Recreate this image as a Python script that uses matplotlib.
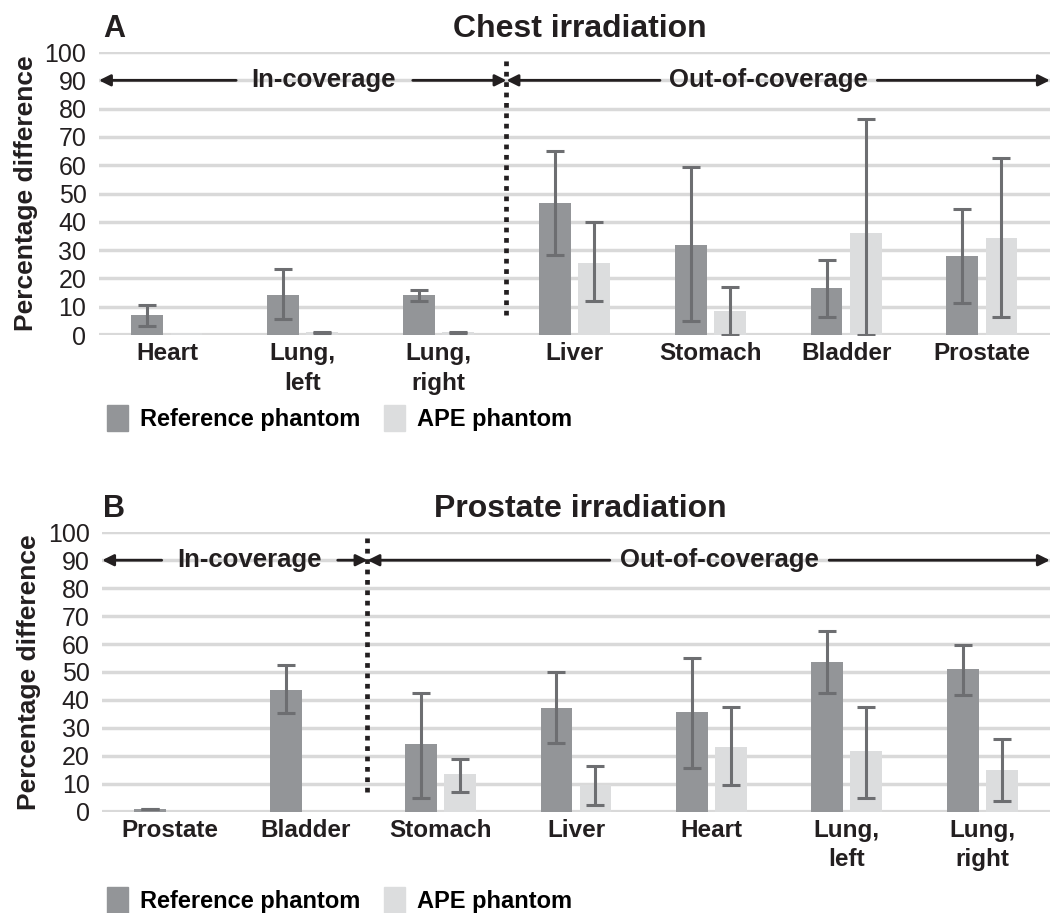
import matplotlib

matplotlib.use("Agg")
import matplotlib.pyplot as plt
import numpy as np
from matplotlib.patches import Patch

plt.rcParams["font.family"] = ["Liberation Sans", "DejaVu Sans"]

# panel A: chest irradiation
organs_a = ["Heart", "Lung,\nleft", "Lung,\nright", "Liver", "Stomach", "Bladder", "Prostate"]
ref_a = [7.0, 14.0, 14.0, 46.5, 32.0, 16.5, 28.0]
ref_a_lo = [3.3, 5.6, 12.1, 28.3, 4.8, 6.5, 11.3]
ref_a_hi = [10.5, 23.4, 16.1, 65.0, 59.4, 26.7, 44.6]
ape_a = [0.8, 1.0, 1.0, 25.4, 8.4, 36.0, 34.3]
ape_a_lo = [0.8, 0.9, 0.9, 12.1, 0.0, 0.0, 6.5]
ape_a_hi = [0.8, 1.1, 1.1, 39.8, 17.0, 76.3, 62.7]

# panel B: prostate irradiation
organs_b = ["Prostate", "Bladder", "Stomach", "Liver", "Heart", "Lung,\nleft", "Lung,\nright"]
ref_b = [0.9, 43.7, 24.2, 37.1, 35.6, 53.5, 51.0]
ref_b_lo = [0.8, 35.2, 4.8, 24.5, 15.5, 42.5, 41.8]
ref_b_hi = [1.0, 52.4, 42.6, 49.9, 54.9, 64.6, 59.8]
ape_b = [0.0, 0.0, 13.4, 9.4, 23.1, 21.6, 14.9]
ape_b_lo = [0.0, 0.0, 7.1, 2.4, 9.6, 4.8, 3.9]
ape_b_hi = [0.0, 0.0, 18.8, 16.3, 37.6, 37.6, 26.1]

REF_C = "#939598"
APE_C = "#dcddde"
ERR_C = "#6d6e71"
GRID_C = "#d9d9d9"
INK = "#231f20"
W = 0.235
OFF = 0.144


def arrow(ax, x0, x1, y=90):
    ax.annotate("", xy=(x1, y), xytext=(x0, y),
                arrowprops=dict(arrowstyle="-|>", color=INK, lw=2.0,
                                mutation_scale=17, shrinkA=0, shrinkB=0))


def panel(ax, organs, ref, ref_lo, ref_hi, ape, ape_lo, ape_hi):
    x = np.arange(len(organs))
    ax.set_xlim(-0.5, len(organs) - 0.5)
    ax.set_ylim(0, 100)
    for v in range(0, 101, 10):
        ax.axhline(v, color=GRID_C, lw=2.5 if v else 3, zorder=0)
    ref = np.array(ref)
    ape = np.array(ape)
    ax.bar(x - OFF, ref, W, color=REF_C, zorder=2)
    ax.bar(x + OFF, ape, W, color=APE_C, zorder=2)
    for xs, vals, lo, hi in [(x - OFF, ref, ref_lo, ref_hi), (x + OFF, ape, ape_lo, ape_hi)]:
        lo = np.array(lo)
        hi = np.array(hi)
        mask = (hi - lo) > 0
        ax.errorbar(xs[mask], vals[mask], yerr=[vals[mask] - lo[mask], hi[mask] - vals[mask]],
                    fmt="none", ecolor=ERR_C, elinewidth=2.2, capsize=6.5, capthick=2.2, zorder=4)
    ax.set_yticks(range(0, 101, 10))
    ax.set_xticks(x)
    ax.set_xticklabels(organs, fontweight="bold", fontsize=17.5, linespacing=1.38, va="top")
    ax.tick_params(axis="both", length=0, colors=INK)
    ax.tick_params(axis="y", labelsize=18, pad=9)
    ax.tick_params(axis="x", pad=5)
    for s in ax.spines.values():
        s.set_visible(False)
    ax.set_ylabel("Percentage difference", fontsize=19, fontweight="bold", color=INK,
                  labelpad=5)


fig = plt.figure(figsize=(10.53, 9.13), dpi=100)
ax_a = fig.add_axes([0.094, 0.633, 0.903, 0.310])
ax_b = fig.add_axes([0.097, 0.111, 0.900, 0.306])

panel(ax_a, organs_a, ref_a, ref_a_lo, ref_a_hi, ape_a, ape_a_lo, ape_a_hi)
panel(ax_b, organs_b, ref_b, ref_b_lo, ref_b_hi, ape_b, ape_b_lo, ape_b_hi)

dots = dict(color=INK, lw=3.4, ls=(0, (1, 1.2)), dash_capstyle="butt", zorder=5)

# coverage annotations, panel A
ax_a.plot([2.5, 2.5], [7, 98], **dots)
ax_a.text(1.15, 90, "In-coverage", ha="center", va="center", fontsize=18.5, fontweight="bold",
          color=INK)
arrow(ax_a, 0.51, -0.5)
arrow(ax_a, 1.81, 2.5)
ax_a.text(4.43, 90, "Out-of-coverage", ha="center", va="center", fontsize=18.5,
          fontweight="bold", color=INK)
arrow(ax_a, 3.63, 2.5)
arrow(ax_a, 5.23, 6.5)

# coverage annotations, panel B
ax_b.plot([1.46, 1.46], [7, 98], **dots)
ax_b.text(0.59, 90, "In-coverage", ha="center", va="center", fontsize=18.5, fontweight="bold",
          color=INK)
arrow(ax_b, -0.06, -0.5)
arrow(ax_b, 1.24, 1.46)
ax_b.text(4.06, 90, "Out-of-coverage", ha="center", va="center", fontsize=18.5,
          fontweight="bold", color=INK)
arrow(ax_b, 3.25, 1.46)
arrow(ax_b, 4.87, 6.5)

# titles and panel letters
fig.text(0.098, 0.968, "A", fontsize=22, fontweight="bold", va="center", color=INK)
fig.text(0.551, 0.968, "Chest irradiation", fontsize=23, fontweight="bold", ha="center",
         va="center", color=INK)
fig.text(0.098, 0.442, "B", fontsize=22, fontweight="bold", va="center", color=INK)
fig.text(0.551, 0.442, "Prostate irradiation", fontsize=23, fontweight="bold", ha="center",
         va="center", color=INK)

# legends
handles = [Patch(color=REF_C, label="Reference phantom"), Patch(color=APE_C, label="APE phantom")]
for ypos in (1 - 418 / 913, 1 - 900 / 913):
    fig.legend(handles=handles, loc="center left", bbox_to_anchor=(0.088, ypos), ncol=2,
               frameon=False, handlelength=0.9, handleheight=1.3, handletextpad=0.5,
               columnspacing=1.0, borderpad=0.1, prop={"weight": "bold", "size": 17})

fig.savefig("out.png")
